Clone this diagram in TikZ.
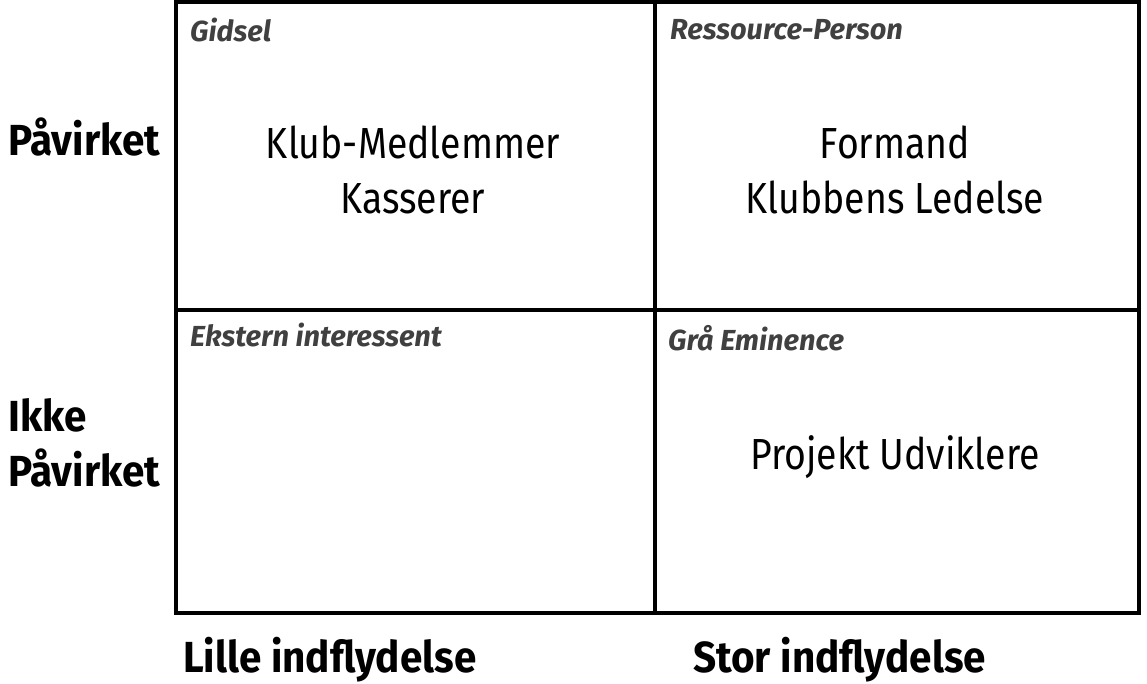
\documentclass[tikz,border=0pt]{standalone}
\usepackage{fontspec}
\setmainfont[FakeStretch=0.86,
  BoldFeatures={FakeStretch=0.93},
  BoldItalicFeatures={FakeStretch=1.0}]{Fira Sans}
\usetikzlibrary{positioning}
\usetikzlibrary{calc}
\definecolor{cornergray}{HTML}{404040}
\tikzset{cell/.style={draw,line width=4pt}}
\tikzset{axis/.style={font=\fontsize{43.5}{55}\selectfont\bfseries,anchor=west,align=left,inner sep=0pt}}
\tikzset{corner/.style={font=\fontsize{29}{34}\selectfont\bfseries\itshape,text=cornergray,anchor=west,inner sep=0pt}}
\tikzset{who/.style={font=\fontsize{43.5}{55}\selectfont,align=center,inner sep=0pt}}

\begin{document}
\begin{tikzpicture}[x=1pt,y=-1pt]
\useasboundingbox (0,0) rectangle (1147,683);

\coordinate (nw) at (176,2);
\coordinate (se) at (1139,613);
\coordinate (mid) at (655,310);

\draw[cell] (nw) rectangle (se);
\draw[cell] (mid |- nw) -- (mid |- se);
\draw[cell] (nw |- mid) -- (se |- mid);

\node[corner] (gidsel) at (190,30) {Gidsel};
\node[corner] (ressource) at (670,30) {Ressource-Person};
\node[corner] (ekstern) at (190,335) {Ekstern interessent};
\node[corner] (graa) at (668,338) {Grå Eminence};

\node[who] (klub) at (413,170) {Klub-Medlemmer\\Kasserer};
\node[who] (formand) at (895,170) {Formand\\Klubbens Ledelse};
\node[who] (projekt) at (895,457) {Projekt Udviklere};

\node[axis] (paavirket) at (8,137) {Påvirket};
\node[axis] (ikke) at (8,443) {Ikke\\Påvirket};
\node[axis] (lille) at (183,660) {Lille indflydelse};
\node[axis] (stor) at (693,660) {Stor indflydelse};

\end{tikzpicture}
\end{document}
